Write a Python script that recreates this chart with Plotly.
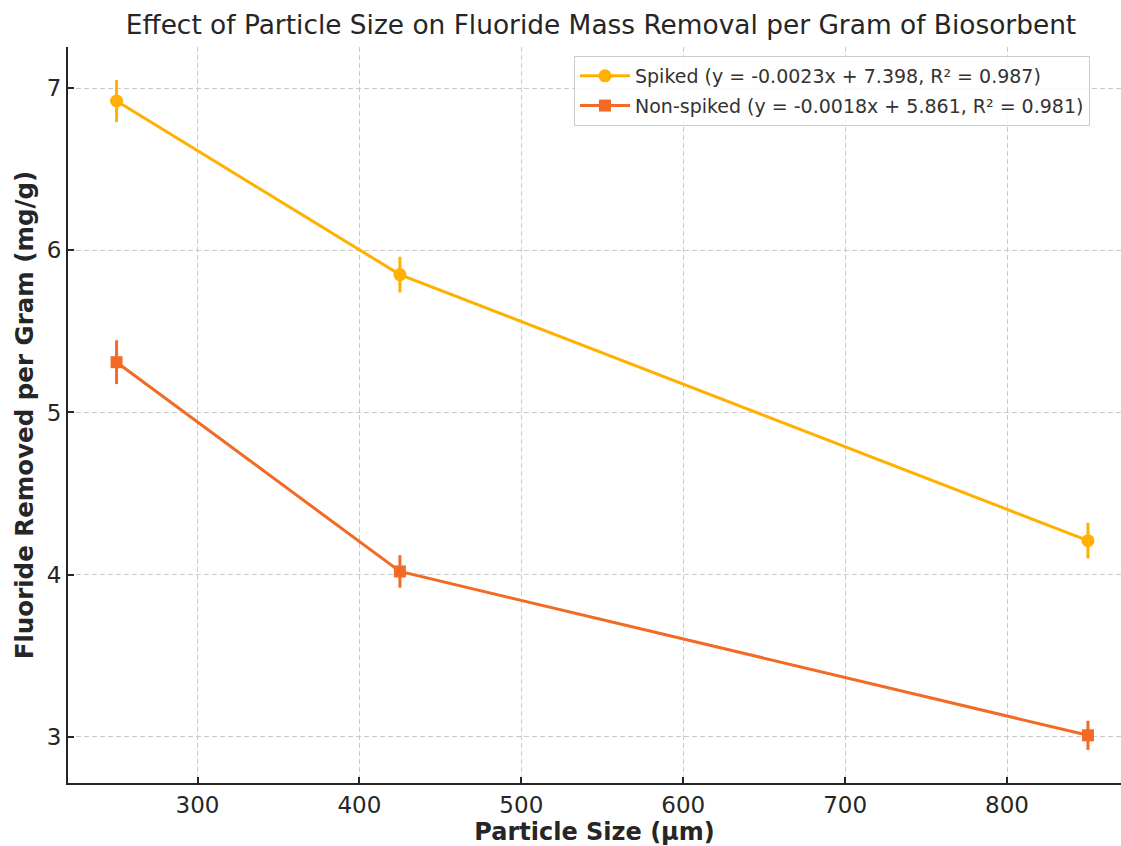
import plotly.graph_objects as go

# Particle sizes (µm) and fluoride removed per gram (mg/g)
particle_size = [250, 425, 850]
spiked = [6.92, 5.85, 4.21]
spiked_err = [0.13, 0.11, 0.11]
non_spiked = [5.31, 4.02, 3.01]
non_spiked_err = [0.135, 0.10, 0.09]

spiked_label = "Spiked (y = -0.0023x + 7.398, R² = 0.987)"
non_spiked_label = "Non-spiked (y = -0.0018x + 5.861, R² = 0.981)"

x_ticks = [300, 400, 500, 600, 700, 800]
y_ticks = [3, 4, 5, 6, 7]

SPIKED_COLOR = "#FFB000"
NON_SPIKED_COLOR = "#F26A24"
FONT = "DejaVu Sans"

W, H = 1121, 846
L, R, T, B = 68, 0, 47, 63
plot_w = W - L - R
plot_h = H - T - B

fig = go.Figure()

fig.add_trace(go.Scatter(
    x=particle_size, y=spiked, name=spiked_label, mode="lines+markers",
    legendgroup="spiked",
    line=dict(color=SPIKED_COLOR, width=3),
    marker=dict(symbol="circle", size=13, color=SPIKED_COLOR),
    error_y=dict(type="data", array=spiked_err, color=SPIKED_COLOR,
                 thickness=3, width=0),
))
fig.add_trace(go.Scatter(
    x=particle_size, y=non_spiked, name=non_spiked_label, mode="lines+markers",
    legendgroup="nonspiked",
    line=dict(color=NON_SPIKED_COLOR, width=3),
    marker=dict(symbol="square", size=12, color=NON_SPIKED_COLOR),
    error_y=dict(type="data", array=non_spiked_err, color=NON_SPIKED_COLOR,
                 thickness=3, width=0),
))

axis_common = dict(
    showgrid=True, gridcolor="#cbcbcb", griddash="5px,3px", gridwidth=1,
    showline=True, linecolor="#262626", linewidth=2,
    ticks="inside", ticklen=6, tickwidth=2, tickcolor="#262626",
    tickfont=dict(family=FONT, size=23, color="#262626"),
    zeroline=False, mirror=False,
)

fig.update_layout(
    width=W, height=H,
    margin=dict(l=L, r=R, t=T, b=B),
    paper_bgcolor="white", plot_bgcolor="white",
    font=dict(family=FONT, color="#262626"),
    title=dict(
        text="Effect of Particle Size on Fluoride Mass Removal per Gram of Biosorbent",
        font=dict(family=FONT, size=26.4, color="#262626"),
        xref="container", x=601 / W, xanchor="center",
        yref="container", y=1 - 25 / H, yanchor="middle",
    ),
    xaxis=dict(
        axis_common, range=[220, 870.4], tickvals=x_ticks,
        title=dict(text="<b>Particle Size (µm)</b>",
                   font=dict(family=FONT, size=24, color="#262626"), standoff=10),
    ),
    yaxis=dict(
        axis_common, range=[2.716, 7.253], tickvals=y_ticks,
        title=dict(text="<b>Fluoride Removed per Gram (mg/g)</b>",
                   font=dict(family=FONT, size=24.5, color="#262626"), standoff=6),
    ),
    legend=dict(
        xref="paper", yref="paper",
        x=(574 - L) / plot_w, y=1 - (56 - T) / plot_h,
        xanchor="left", yanchor="top",
        bgcolor="rgba(255,255,255,0.85)", bordercolor="#cccccc", borderwidth=1,
        font=dict(family=FONT, size=19, color="#333333"),
        traceorder="grouped", tracegroupgap=2, itemwidth=50,
    ),
    showlegend=True,
)

fig.write_html("out.html")
